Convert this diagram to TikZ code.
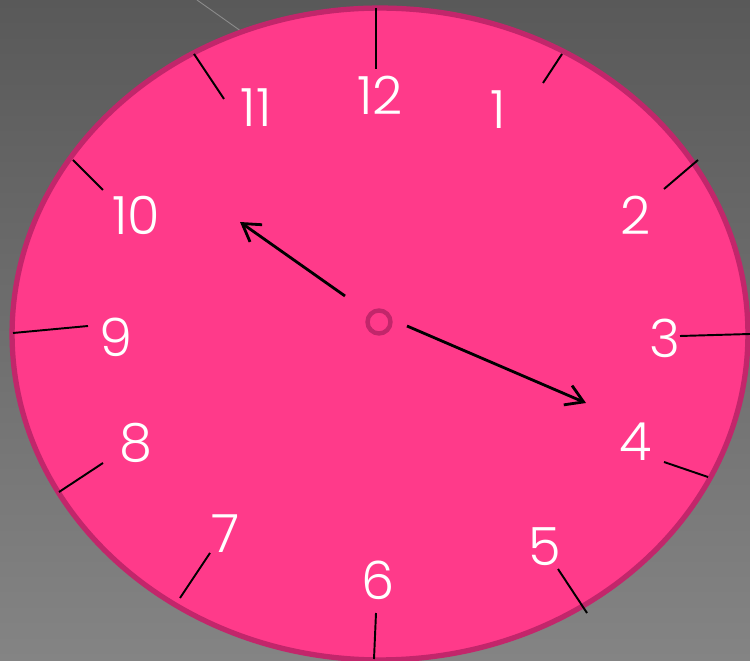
\documentclass[tikz,border=0pt]{standalone}
\usepackage{fontspec}
\newfontfamily\clockfont{Poppins Light}
\usetikzlibrary{arrows.meta}
\definecolor{bgtop}{HTML}{595959}
\definecolor{bgbot}{HTML}{848484}
\definecolor{streak}{HTML}{8C8C8C}
\definecolor{face}{HTML}{FF3A8A}
\definecolor{rim}{HTML}{C2266B}

\begin{document}
\begin{tikzpicture}[
  x=0.02cm,y=-0.02cm,
  >={Straight Barb[length=3.4mm,width=4.2mm]},
  num/.style={text=white,font=\clockfont\fontsize{30}{30}\selectfont,inner sep=0pt},
  tickln/.style={draw=black,line width=1.1pt},
  hand/.style={->,draw=black,line width=1.6pt},
]

%------------------------------------------------------------- backdrop ---
\shade[top color=bgtop,bottom color=bgbot] (0,0) rectangle (750,661);
\useasboundingbox (0,0) rectangle (750,661);
\draw[streak,line width=0.5pt] (197,0) -- (262,46);

%----------------------------------------------------------------- face ---
\draw[rim,fill=face,line width=3pt] (380,334) ellipse [x radius=7.36cm,y radius=6.52cm];

%---------------------------------------------------------------- ticks ---
\foreach \xa/\ya/\xb/\yb in {376/8/376/69, 562/54/543/83, 698/160/664/189,
    750/334/680/336, 708/477/664/462, 587/613/558/569, 374/659/376/613,
    180/598/210/553, 59/492/103/463, 13/333/88/326, 73/160/103/190, 194/54/224/99}{
  \draw[tickln] (\xa,\ya) -- (\xb,\yb);
}

%-------------------------------------------------------------- numbers ---
\foreach \h/\x/\y in {12/380/95, 1/498/110, 2/636/215, 3/665/338, 4/636/442,
    5/545/547, 6/378/580, 7/226/534, 8/136/443, 9/116/337, 10/136/215, 11/256/108}{
  \node[num] (n\h) at (\x,\y) {\h};
}

%---------------------------------------------------------------- hands ---
\node[draw=rim,circle,line width=2.5pt,minimum size=0.46cm,inner sep=0pt] (hub) at (379,322) {};
\coordinate (hbase) at (345,296);
\coordinate (htip) at (240,222);
\coordinate (mbase) at (407,326);
\coordinate (mtip) at (586,403);
\draw[hand] (hbase) -- (htip);
\draw[hand] (mbase) -- (mtip);

\end{tikzpicture}
\end{document}
